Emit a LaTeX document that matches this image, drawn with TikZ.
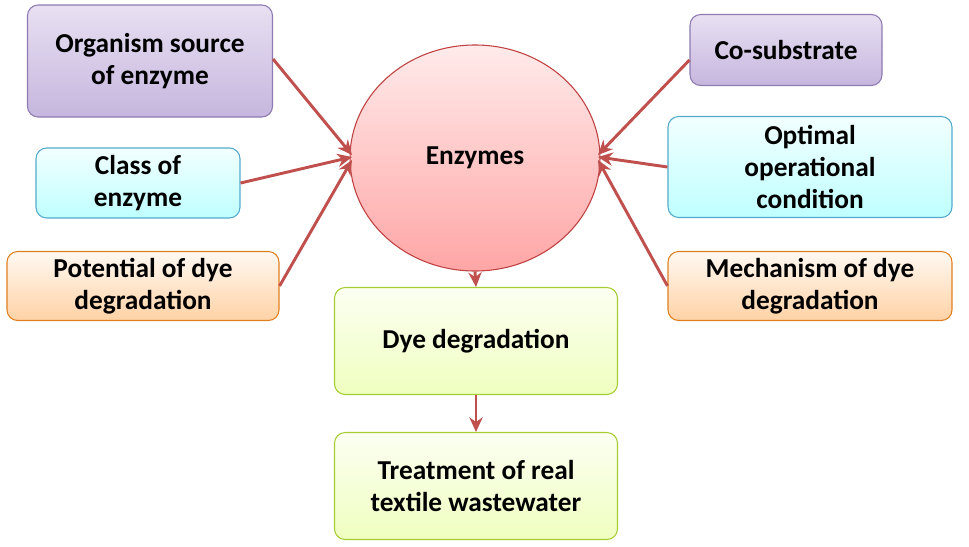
\documentclass[tikz,border=0pt]{standalone}
\usepackage{fontspec}
\setmainfont{Carlito}
\usetikzlibrary{shapes.geometric,arrows.meta}
\definecolor{arr}{HTML}{C0504D}
\definecolor{pl}{HTML}{E8E0F2}
\definecolor{pd}{HTML}{C6B6DE}
\definecolor{pb}{HTML}{8E7BB0}
\begin{document}
\begin{tikzpicture}[x=0.75pt,y=-0.75pt,
 box/.style={draw,line width=0.8pt,rounded corners=8pt,align=center,font=\bfseries\fontsize{20.5}{24}\selectfont,inner sep=0pt},
 purp/.style={box,draw=pb,top color=pl,bottom color=pd},
 blue/.style={box,draw=cyan!60!gray,top color=cyan!5,bottom color=cyan!25},
 oran/.style={box,draw=orange!75!gray,top color=orange!5,bottom color=orange!35},
 gren/.style={box,draw=lime!60!gray,top color=lime!5,bottom color=lime!25},
 ar/.style={draw=arr,line width=2.2pt,-{Stealth[length=11pt,width=10pt]}}]
\useasboundingbox (0,0) rectangle (969,546);
\node[purp,minimum width=183.75pt,minimum height=84pt] (org) at (150,61) {Organism source\\of enzyme};
\node[blue,minimum width=153pt,minimum height=52.5pt] (cls) at (138,183) {Class of\\enzyme};
\node[oran,minimum width=204pt,minimum height=51.75pt] (pot) at (143,286) {Potential of dye\\degradation};
\node[purp,minimum width=144pt,minimum height=53.25pt] (cos) at (786,50) {Co-substrate};
\node[blue,minimum width=213pt,minimum height=75.75pt] (opt) at (810,167) {Optimal\\operational\\condition};
\node[oran,minimum width=213pt,minimum height=51.75pt] (mec) at (810,286) {Mechanism of dye\\degradation};
\node[ellipse,draw=red!50!gray,line width=0.8pt,top color=red!8,bottom color=red!35,inner sep=0pt,minimum width=187.5pt,minimum height=169.5pt,font=\bfseries\fontsize{20.5}{24}\selectfont] (enz) at (475,158) {Enzymes};
\node[gren,minimum width=212.25pt,minimum height=80.25pt] (dye) at (476,341) {Dye degradation};
\node[gren,minimum width=212.25pt,minimum height=80.25pt] (tre) at (476,486) {Treatment of real\\textile wastewater};
\coordinate (e1) at (352,155);
\coordinate (e2) at (598,155);
\draw[ar] (org.east) ++(0,-2) -- (e1);
\draw[ar] (cls.east) -- (352,157);
\draw[ar] (pot.east) -- (352,160);
\draw[ar] (cos.west) ++(0,10) -- (e2);
\draw[ar] (opt.west) -- (598,157);
\draw[ar] (mec.west) -- (598,160);
\draw[ar] (enz.south) -- (dye.north);
\draw[ar] (dye.south) -- (tre.north);
\end{tikzpicture}
\end{document}
